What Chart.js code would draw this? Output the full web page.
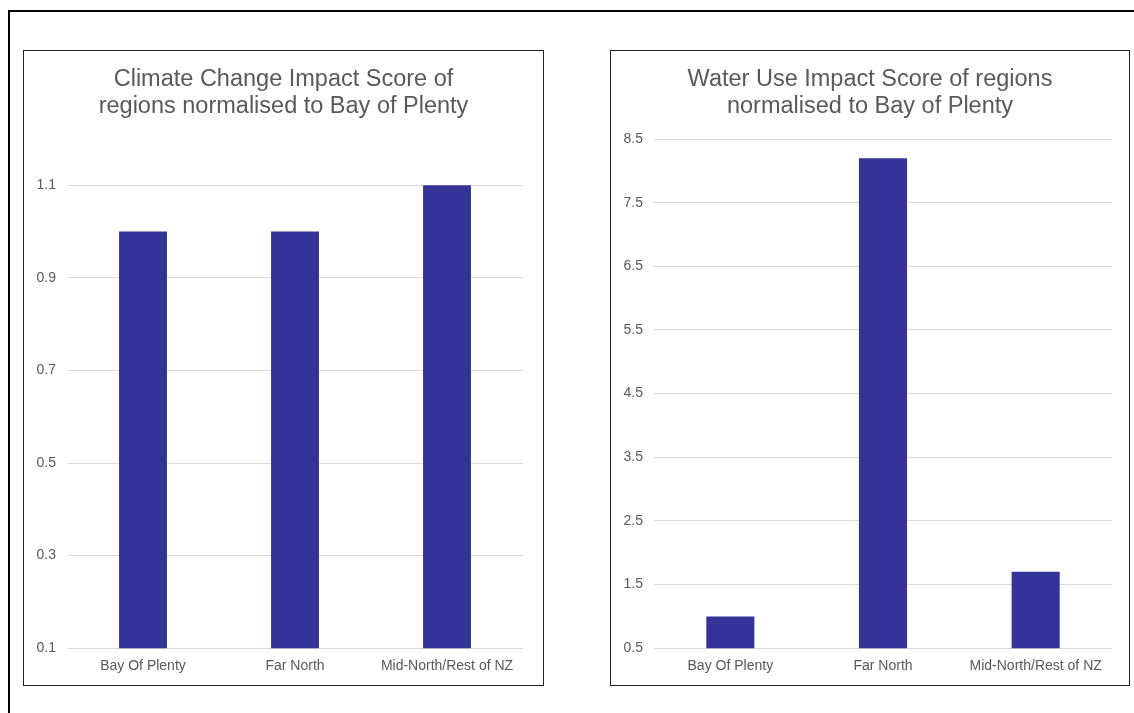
<!DOCTYPE html>
<html lang="en">
<head>
<meta charset="utf-8"/>
<title>Impact scores</title>
<script src="https://cdn.jsdelivr.net/npm/chart.js"></script>
<style>
  body { margin: 0; background: #fff; font-family: "Liberation Sans", Arial, sans-serif; }
  .outer { position: absolute; left: 8px; top: 10px; width: 1140px; height: 720px; border: 2px solid #000; }
  .panel { position: absolute; top: 50px; height: 634px; border: 1px solid #222; background: #fff; }
  #p1 { left: 23px; width: 519px; }
  #p2 { left: 610px; width: 518px; }
  .panel canvas { display: block; }
</style>
</head>
<body>
<div class="outer"></div>
<div class="panel" id="p1"><canvas id="climate"></canvas></div>
<div class="panel" id="p2"><canvas id="water"></canvas></div>
<script>
  const regions = ['Bay Of Plenty', 'Far North', 'Mid-North/Rest of NZ'];
  const climateScores = [1.0, 1.0, 1.1];
  const waterScores = [1.0, 8.2, 1.7];
  const climateTicks = [0.1, 0.3, 0.5, 0.7, 0.9, 1.1];
  const waterTicks = [0.5, 1.5, 2.5, 3.5, 4.5, 5.5, 6.5, 7.5, 8.5];

  const grey = '#595959';
  const barColor = '#333399';

  // yWidth = room for the tick labels, rightGap = empty space right of the plot
  function makeChart(id, title, values, ticks, min, max, yWidth, rightGap) {
    const canvas = document.getElementById(id);
    const box = canvas.parentNode;
    canvas.width = box.clientWidth;
    canvas.height = box.clientHeight;
    return new Chart(canvas, {
      type: 'bar',
      data: {
        labels: regions,
        datasets: [{
          data: values,
          backgroundColor: barColor,
          borderWidth: 0,
          categoryPercentage: 1,
          barPercentage: 0.315
        }]
      },
      options: {
        responsive: false,
        animation: false,
        layout: { padding: { left: 8, right: 8, top: 15, bottom: 8 } },
        plugins: {
          legend: { display: false },
          tooltip: { enabled: false },
          title: {
            display: true,
            text: title,
            color: grey,
            font: { family: 'Liberation Sans', size: 23.5, weight: 'normal', lineHeight: 1.15 },
            padding: { top: 0, bottom: 19 }
          }
        },
        scales: {
          x: {
            grid: { display: false },
            border: { display: false },
            ticks: { color: grey, font: { family: 'Liberation Sans', size: 14 }, padding: 2, maxRotation: 0 }
          },
          y: {
            min: min,
            max: max,
            afterBuildTicks: s => { s.ticks = ticks.map(v => ({ value: v })); },
            afterFit: s => { s.width = yWidth; },
            grid: { color: '#d9d9d9', drawTicks: false },
            border: { display: false },
            ticks: {
              color: grey,
              font: { family: 'Liberation Sans', size: 14 },
              padding: 11,
              callback: v => v.toFixed(1)
            }
          },
          gap: {
            type: 'linear',
            position: 'right',
            grid: { display: false },
            border: { display: false },
            ticks: { display: false },
            afterFit: s => { s.width = rightGap; }
          }
        }
      }
    });
  }

  makeChart('climate', ['Climate Change Impact Score of', 'regions normalised to Bay of Plenty'],
            climateScores, climateTicks, 0.1, 1.2, 35, 12);
  makeChart('water', ['Water Use Impact Score of regions', 'normalised to Bay of Plenty'],
            waterScores, waterTicks, 0.5, 8.5, 35, 9);
</script>
</body>
</html>
